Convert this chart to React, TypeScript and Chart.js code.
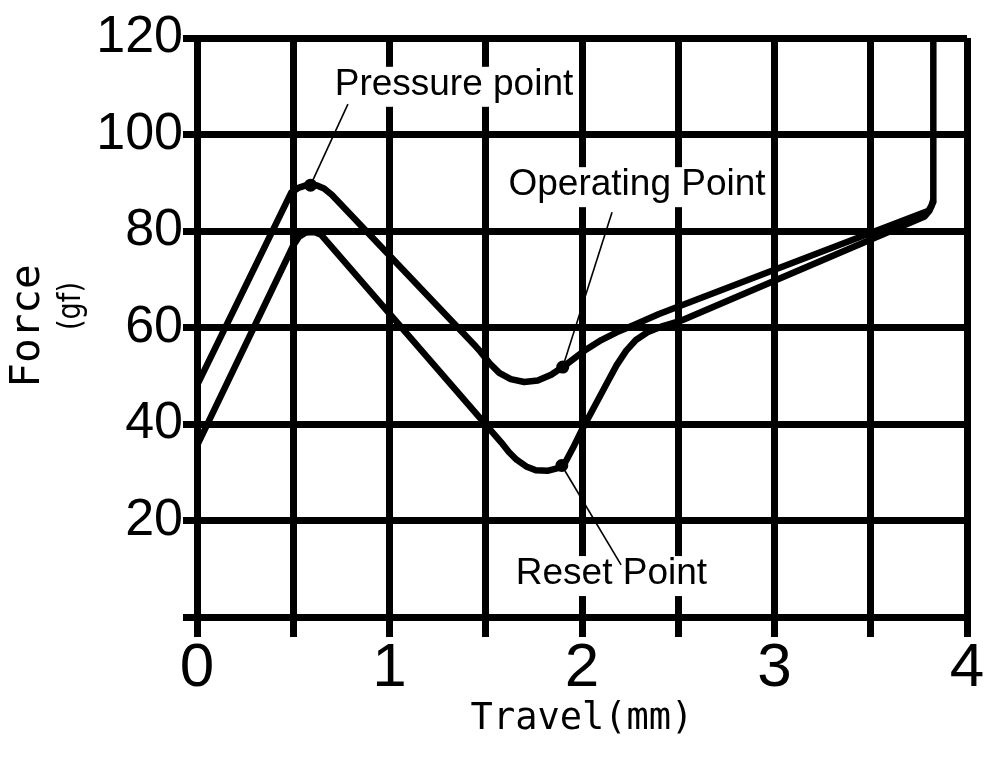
import React, { useEffect, useRef } from 'react';
import { Chart, registerables } from 'chart.js';

Chart.register(...registerables);

// Press stroke (upper curve): travel (mm) and force (gf)
const upperTravel = [0, 0.49, 0.53, 0.57, 0.62, 0.66, 0.70, 1.45, 1.47, 1.52, 1.57, 1.63, 1.70, 1.77, 1.84, 1.90, 1.96, 2.02, 2.10, 2.18, 2.27, 2.40, 3.80, 3.815, 3.825, 3.825];
const upperForce = [48, 88.0, 89.0, 89.5, 89.5, 88.8, 87.5, 56.0, 55.1, 52.6, 50.6, 49.3, 48.7, 49.0, 50.2, 51.8, 53.6, 55.4, 57.4, 59.0, 60.5, 62.8, 84.2, 85.2, 86.5, 120];

// Return stroke (lower curve)
const lowerTravel = [0, 0.50, 0.53, 0.565, 0.61, 0.645, 1.58, 1.62, 1.66, 1.71, 1.76, 1.82, 1.87, 1.91, 1.95, 2.00, 2.13, 2.18, 2.23, 2.28, 2.34, 2.42, 2.52, 3.78, 3.805, 3.825];
const lowerForce = [35.5, 77.0, 78.8, 79.7, 79.8, 79.2, 36.2, 34.2, 32.6, 31.2, 30.4, 30.3, 30.8, 31.8, 34.8, 38.8, 48.5, 52.2, 55.2, 57.4, 59.0, 60.3, 61.5, 83.0, 84.2, 86.0];

// Marked points
const markerNames = ['Pressure point', 'Operating Point', 'Reset Point'];
const markerTravel = [0.59, 1.90, 1.895];
const markerForce = [89.5, 51.8, 31.4];

// Tick labels
const xLabelValues = [0, 1, 2, 3, 4];
const yLabelValues = [20, 40, 60, 80, 100, 120];

// Callout placement (data coordinates): label centre and leader-line end
const calloutLayout = [
  { cx: 1.335, cy: 110.3, lx: 0.784, ly: 106.3 },
  { cx: 2.286, cy: 89.5, lx: 2.156, ly: 83.9 },
  { cx: 2.153, cy: 8.9, lx: 2.203, ly: 10.8 },
];

const toPoints = (xs: number[], ys: number[]) => xs.map((x, i) => ({ x, y: ys[i] }));

const calloutPlugin = {
  id: 'callouts',
  afterDraw(chart: any) {
    const { ctx, scales } = chart;
    const xs = scales.x;
    const ys = scales.y;
    ctx.save();
    ctx.font = '37px "Liberation Sans", Arial, sans-serif';
    ctx.textAlign = 'center';
    ctx.textBaseline = 'middle';
    markerNames.forEach((name, i) => {
      const lay = calloutLayout[i];
      const cx = xs.getPixelForValue(lay.cx);
      const cy = ys.getPixelForValue(lay.cy);
      const w = ctx.measureText(name).width;
      ctx.fillStyle = '#fff';
      ctx.fillRect(cx - w / 2 - 4, cy - 18, w + 8, 40);
      ctx.fillStyle = '#000';
      ctx.fillText(name, cx, cy);
      const px = xs.getPixelForValue(markerTravel[i]);
      const py = ys.getPixelForValue(markerForce[i]);
      ctx.beginPath();
      ctx.strokeStyle = '#000';
      ctx.lineWidth = 1.6;
      ctx.moveTo(px, py);
      ctx.lineTo(xs.getPixelForValue(lay.lx), ys.getPixelForValue(lay.ly));
      ctx.stroke();
    });
    // Y axis title: "Force" and "(gf)"
    ctx.fillStyle = '#000';
    ctx.save();
    ctx.translate(28, 326);
    ctx.rotate(-Math.PI / 2);
    ctx.font = '41px "DejaVu Sans Mono", monospace';
    ctx.fillText('Force', 0, 0);
    ctx.restore();
    ctx.save();
    ctx.translate(72, 306);
    ctx.rotate(-Math.PI / 2);
    ctx.scale(0.85, 1);
    ctx.font = '32px "DejaVu Sans", sans-serif';
    ctx.fillText('(gf)', 0, 0);
    ctx.restore();
    ctx.restore();
  },
};

export default function App() {
  const ref = useRef<HTMLCanvasElement>(null);
  useEffect(() => {
    const canvas = ref.current;
    if (!canvas) return;
    const chart = new Chart(canvas, {
      type: 'line',
      data: {
        datasets: [
          {
            data: toPoints(upperTravel, upperForce),
            borderColor: '#000',
            borderWidth: 6.5,
            pointRadius: 0,
            tension: 0,
            borderJoinStyle: 'round',
            borderCapStyle: 'round',
            fill: false,
          },
          {
            data: toPoints(lowerTravel, lowerForce),
            borderColor: '#000',
            borderWidth: 6.5,
            pointRadius: 0,
            tension: 0,
            borderJoinStyle: 'round',
            borderCapStyle: 'round',
            fill: false,
          },
          {
            data: toPoints(markerTravel, markerForce),
            showLine: false,
            pointRadius: 6.5,
            pointBackgroundColor: '#000',
            pointBorderColor: '#000',
            pointBorderWidth: 0,
          },
        ],
      } as any,
      options: {
        responsive: false,
        devicePixelRatio: 1,
        animation: false,
        layout: { padding: { top: 38, right: 33, left: 0, bottom: 0 } },
        plugins: { legend: { display: false }, tooltip: { enabled: false } },
        scales: {
          x: {
            type: 'linear',
            min: 0,
            max: 4,
            ticks: {
              stepSize: 0.5,
              autoSkip: false,
              maxRotation: 0,
              padding: 1,
              color: '#000',
              font: { family: '"Liberation Sans", Arial, sans-serif', size: 62, lineHeight: 1 },
              callback: (v: any) => (xLabelValues.includes(Number(v)) ? String(v) : ''),
            },
            grid: { color: '#000', lineWidth: 7, tickLength: 20, drawTicks: true },
            border: { display: false },
            title: {
              display: true,
              text: 'Travel(mm)',
              color: '#000',
              font: { family: '"DejaVu Sans Mono", monospace', size: 37, lineHeight: 1.2 },
              padding: { top: 0, bottom: 18 },
            },
            afterFit: (s: any) => {
              s.height = 143;
            },
          },
          y: {
            type: 'linear',
            min: 0,
            max: 120,
            ticks: {
              stepSize: 20,
              padding: 0,
              color: '#000',
              font: { family: '"Liberation Sans", Arial, sans-serif', size: 52, lineHeight: 1 },
              callback: (v: any) => (yLabelValues.includes(Number(v)) ? String(v) : ''),
            },
            grid: { color: '#000', lineWidth: 7, tickLength: 14, drawTicks: true },
            border: { display: false },
            afterFit: (s: any) => {
              s.width = 197;
            },
          },
        },
      } as any,
      plugins: [calloutPlugin],
    });
    return () => chart.destroy();
  }, []);
  return (
    <div style={{ position: 'absolute', left: 0, top: 0, width: 1000, height: 760, background: '#fff' }}>
      <canvas ref={ref} width={1000} height={760} style={{ display: 'block' }} />
    </div>
  );
}
